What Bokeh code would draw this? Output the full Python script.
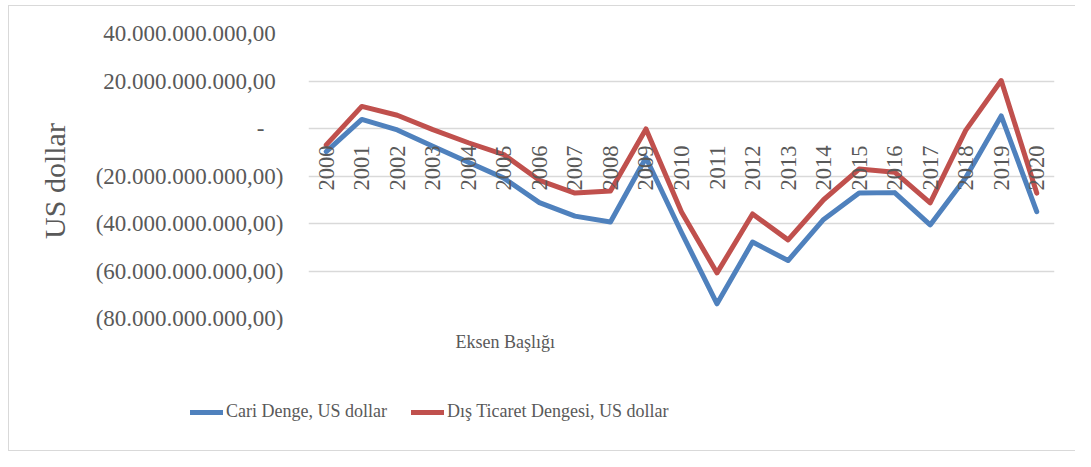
from math import pi
from bokeh.plotting import figure
from bokeh.layouts import column, row
from bokeh.models import (Range1d, FactorRange, FixedTicker, Legend, LegendItem,
                          Label, ColumnDataSource)
from bokeh.core.properties import value
from bokeh.embed import file_html
from bokeh.resources import INLINE

# ---- data (billions of US dollars) ----
years = ["2000", "2001", "2002", "2003", "2004", "2005", "2006", "2007", "2008", "2009",
         "2010", "2011", "2012", "2013", "2014", "2015", "2016", "2017", "2018", "2019", "2020"]
cari_denge = [-9.7, 3.8, -0.6, -7.5, -14.2, -20.9, -31.2, -36.9, -39.4, -12.3,
              -43.8, -73.8, -47.8, -55.6, -38.3, -27.2, -27.0, -40.6, -20.7, 5.3, -35.0]
dis_ticaret = [-6.9, 9.3, 5.6, -0.5, -6.0, -11.0, -21.8, -27.2, -26.3, -0.2,
               -35.2, -60.8, -36.0, -46.9, -30.0, -17.1, -18.4, -31.3, -0.8, 20.2, -27.2]
y_ticks = [40, 20, 0, -20, -40, -60, -80]
y_tick_labels = ["40.000.000.000,00", "20.000.000.000,00", "-",
                 "(20.000.000.000,00)", "(40.000.000.000,00)",
                 "(60.000.000.000,00)", "(80.000.000.000,00)"]
series_names = ["Cari Denge, US dollar", "Dış Ticaret Dengesi, US dollar"]
x_title = "Eksen Başlığı"
y_title = "US dollar"

FONT = "Liberation Serif"
GREY_TEXT = "#595959"
BLUE = "#4F81BD"
RED = "#C0504D"
W = 1075
NAN = float("nan")

src = ColumnDataSource(dict(year=years, cari=cari_denge, dis=dis_ticaret))

# ---------------- main chart ----------------
p = figure(width=W, height=330, output_backend="svg", toolbar_location=None,
           x_range=FactorRange(factors=years, range_padding=0),
           y_range=Range1d(-80, 40), x_axis_location=None,
           min_border_left=308, min_border_right=21, min_border_top=33, min_border_bottom=12,
           background_fill_color="white", border_fill_color=None)
p.outline_line_color = None
p.xgrid.visible = False
p.ygrid.grid_line_color = "#d9d9d9"
p.ygrid.grid_line_width = 1.5

def pad(lbl):
    # Excel accounting format alignment
    if lbl == "-":
        return lbl + "\u2007\u2004"
    if lbl.startswith("("):
        return lbl
    return lbl + "\u2004"

p.yaxis.ticker = FixedTicker(ticks=y_ticks)
p.yaxis.major_label_overrides = {t: pad(l) for t, l in zip(y_ticks, y_tick_labels)}
p.yaxis.axis_line_color = None
p.yaxis.major_tick_line_color = None
p.yaxis.minor_tick_line_color = None
p.yaxis.major_tick_out = 0
p.yaxis.major_tick_in = 0
p.yaxis.major_label_standoff = 25
p.yaxis.major_label_text_font = FONT
p.yaxis.major_label_text_font_size = "23px"
p.yaxis.major_label_text_color = GREY_TEXT
p.yaxis.axis_label = y_title + "\u2004"
p.yaxis.axis_label_standoff = 22
p.yaxis.axis_label_text_font = FONT
p.yaxis.axis_label_text_font_size = "30px"
p.yaxis.axis_label_text_font_style = "normal"
p.yaxis.axis_label_text_color = GREY_TEXT

p.line("year", "cari", source=src, line_color=BLUE, line_width=5,
       line_join="round", line_cap="round")
p.line("year", "dis", source=src, line_color=RED, line_width=5,
       line_join="round", line_cap="round")

# category labels next to the horizontal axis (which crosses at zero)
p.text(x="year", y=0, text="year", source=src, angle=pi / 2, y_offset=17,
       text_align="right", text_baseline="middle",
       text_font=value(FONT), text_font_size="22.5px", text_color=GREY_TEXT)

# ---------------- bottom strip: axis title + legend ----------------
q = figure(width=W, height=121, output_backend="svg", toolbar_location=None,
           x_range=Range1d(0, 1), y_range=Range1d(0, 1),
           x_axis_location=None, y_axis_location=None, min_border=0,
           background_fill_color=None, border_fill_color=None)
q.outline_line_color = None
q.grid.visible = False

q.add_layout(Label(x=455, y=110, x_units="screen", y_units="screen", text=x_title,
                   text_align="left", text_baseline="middle",
                   text_font=FONT, text_font_size="18px", text_color=GREY_TEXT))

# legend samples (no data points of their own)
l1 = q.line(x=[NAN], y=[NAN], line_color=BLUE, line_width=5, line_cap="round")
l2 = q.line(x=[NAN], y=[NAN], line_color=RED, line_width=5, line_cap="round")
legend = Legend(items=[LegendItem(label=series_names[0], renderers=[l1]),
                       LegendItem(label=series_names[1], renderers=[l2])],
                orientation="horizontal", location=(190, 29),
                glyph_width=33, glyph_height=20, label_height=20, label_standoff=3,
                spacing=24, padding=0, margin=0,
                border_line_color=None, background_fill_alpha=0,
                label_text_font=FONT, label_text_font_size="18px",
                label_text_color=GREY_TEXT, label_text_baseline="middle")
q.add_layout(legend)

layout = column(p, row(q, spacing=0), spacing=0, styles={
    "box-shadow": ("inset 8px 0 0 0 #ffffff, inset 0 5px 0 0 #ffffff, "
                   "inset 9px 0 0 0 #d9d9d9, inset 0 6px 0 0 #d9d9d9, "
                   "inset 0 -1px 0 0 #d9d9d9")})

open("out.html", "w").write(file_html(layout, INLINE))
